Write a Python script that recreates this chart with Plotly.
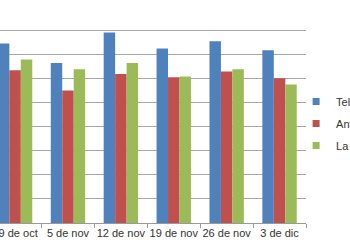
import plotly.graph_objects as go

categories = ["19 de oct", "5 de nov", "12 de nov", "19 de nov", "26 de nov", "3 de dic"]
series_names = ["Telecinco", "Antena 3", "La 1"]
telecinco = [37.2, 33.2, 39.5, 36.2, 37.7, 35.8]
antena3 = [31.7, 27.5, 30.9, 30.2, 31.4, 30.0]
la1 = [33.9, 31.9, 33.2, 30.4, 31.9, 28.7]
colors = ["#4F81BD", "#C0504D", "#9BBB59"]

fig = go.Figure()
for name, vals, col in zip(series_names, [telecinco, antena3, la1], colors):
    fig.add_trace(go.Bar(x=categories, y=vals, name=name, marker=dict(color=col, line=dict(width=0)),
                         showlegend=False))
for name, col in zip(series_names, colors):
    fig.add_trace(go.Scatter(x=[None], y=[None], mode="markers", name=name, legendgroup=name,
                             marker=dict(symbol="square", size=7, color=col)))

fig.update_layout(
    width=350, height=250,
    margin=dict(l=0, r=44, t=6, b=27, autoexpand=False),
    paper_bgcolor="white", plot_bgcolor="white",
    barmode="group", bargap=0.35, bargroupgap=0,
    font=dict(family="Liberation Sans, Arial, sans-serif", size=11, color="#333333"),
    legend=dict(xref="container", yref="container", x=0.846, xanchor="left", y=0.652, yanchor="top",
                itemwidth=30, font=dict(size=11), bgcolor="rgba(0,0,0,0)", tracegroupgap=3),
)
fig.update_xaxes(type="category", range=[-0.285, 5.5], tickson="boundaries", ticks="outside",
                 ticklen=4, tickcolor="#999999", showline=True, linecolor="#999999",
                 showgrid=False, tickfont=dict(size=11), tickangle=0, automargin=False)
fig.update_yaxes(range=[0, 45], dtick=5, showticklabels=False, showgrid=True,
                 gridcolor="#A6A6A6", gridwidth=1, zeroline=False, ticks="", automargin=False)

fig.write_html("out.html")
